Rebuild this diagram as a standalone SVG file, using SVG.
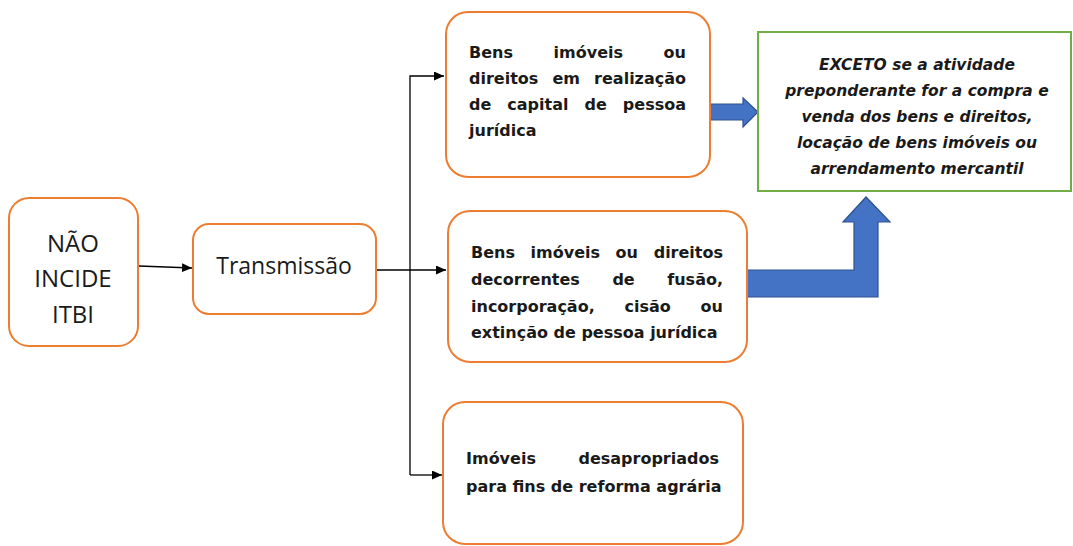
<svg xmlns="http://www.w3.org/2000/svg" width="1073" height="546" viewBox="0 0 1073 546">
<style>
.box{fill:#fff;stroke:#ED7D31;stroke-width:2}
.gbox{fill:#fff;stroke:#70AD47;stroke-width:2}
.big{font-family:"Open Sans","Noto Sans",sans-serif;fill:#1a1a1a;text-anchor:middle}
.b{font-family:"DejaVu Sans",Verdana,sans-serif;font-weight:bold;font-size:16px;fill:#1a1a1a}
.gi{font-family:"DejaVu Sans",Verdana,sans-serif;font-weight:bold;font-style:italic;font-size:15.5px;fill:#1a1a1a;text-anchor:middle}
.con{stroke:#000;stroke-width:1.3;fill:none}
.blue{fill:#4472C4;stroke:#2F528F;stroke-width:1.2}
.e{text-anchor:end}
</style>
<defs>
<marker id="ah" markerUnits="userSpaceOnUse" markerWidth="11" markerHeight="9" refX="10" refY="4.5" orient="auto">
<path d="M0,0 L10,4.5 L0,9 Z" fill="#000"/>
</marker>
</defs>
<g id="connectors">
<path class="con" d="M139,266 L192,268" marker-end="url(#ah)"/>
<path class="con" d="M376,270 L446,270" marker-end="url(#ah)"/>
<path class="con" d="M410,475 L410,76 L444,76" marker-end="url(#ah)"/>
<path class="con" d="M410,475 L442,475" marker-end="url(#ah)"/>
<path class="blue" d="M709,104 L743,104 L743,98 L758,112 L743,127 L743,120 L709,120 Z"/>
<path class="blue" d="M747,270 L854,270 L854,222 L843,222 L866,197 L890,222 L878,222 L878,297 L747,297 Z"/>
</g>
<g id="nao-incide">
<rect class="box" x="9" y="198" width="129" height="148" rx="20"/>
<text class="big" font-size="24" x="73" y="252">NÃO</text>
<text class="big" font-size="24" x="73" y="287">INCIDE</text>
<text class="big" font-size="24" x="73" y="323">ITBI</text>
</g>
<g id="transmissao">
<rect class="box" x="193" y="224" width="183" height="90" rx="16"/>
<text class="big" font-size="23" x="284" y="274">Transmissão</text>
</g>
<g id="capital">
<rect class="box" x="446" y="12" width="264" height="165" rx="22"/>
<text class="b" y="58"><tspan x="469">Bens</tspan><tspan x="553.6">imóveis</tspan><tspan x="686" text-anchor="end">ou</tspan></text>
<text class="b" y="84"><tspan x="469">direitos</tspan><tspan x="552.5">em</tspan><tspan x="686" text-anchor="end">realização</tspan></text>
<text class="b" y="110"><tspan x="469">de</tspan><tspan x="507.3">capital</tspan><tspan x="584.5">de</tspan><tspan x="686" text-anchor="end">pessoa</tspan></text>
<text class="b" y="136" x="469">jurídica</text>
</g>
<g id="fusao">
<rect class="box" x="448" y="211" width="299" height="151" rx="22"/>
<text class="b" y="258"><tspan x="471">Bens</tspan><tspan x="530.6">imóveis</tspan><tspan x="615.6">ou</tspan><tspan x="723" text-anchor="end">direitos</tspan></text>
<text class="b" y="285"><tspan x="471">decorrentes</tspan><tspan x="612.4">de</tspan><tspan x="723" text-anchor="end">fusão,</tspan></text>
<text class="b" y="312"><tspan x="471">incorporação,</tspan><tspan x="624.5">cisão</tspan><tspan x="723" text-anchor="end">ou</tspan></text>
<text class="b" y="338" x="471">extinção de pessoa jurídica</text>
</g>
<g id="reforma">
<rect class="box" x="443" y="402" width="300" height="142" rx="22"/>
<text class="b" y="464"><tspan x="466">Imóveis</tspan><tspan x="719" text-anchor="end">desapropriados</tspan></text>
<text class="b" y="492" x="466">para fins de reforma agrária</text>
</g>
<g id="exceto">
<rect class="gbox" x="758" y="32" width="313" height="159"/>
<text class="gi" x="917" y="70">EXCETO se a atividade</text>
<text class="gi" x="917" y="96">preponderante for a compra e</text>
<text class="gi" x="917" y="122">venda dos bens e direitos,</text>
<text class="gi" x="917" y="148">locação de bens imóveis ou</text>
<text class="gi" x="917" y="174">arrendamento mercantil</text>
</g>
</svg>
